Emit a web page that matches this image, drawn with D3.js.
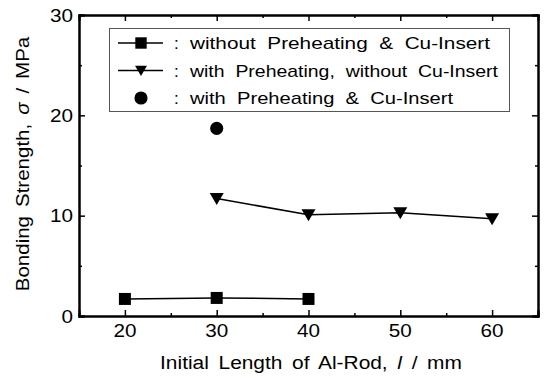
<!DOCTYPE html>
<html>
<head>
<meta charset="utf-8">
<script src="https://cdn.jsdelivr.net/npm/d3@7"></script>
<style>
  html, body { margin: 0; padding: 0; background: #fff; }
  svg { display: block; font-family: "Liberation Sans", Arial, sans-serif; }
</style>
</head>
<body>
<svg id="chart" width="544" height="381"></svg>
<script>
// Bonding strength vs. initial Al-rod length
const lengthNoPre = [20, 30, 40];
const strengthNoPre = [1.7, 1.8, 1.7];

const lengthPre = [30, 40, 50, 60];
const strengthPre = [11.7, 10.1, 10.3, 9.7];

const lengthPreCu = [30];
const strengthPreCu = [18.7];

const legendLabels = [
  "without  Preheating  &  Cu-Insert",
  "with  Preheating,  without  Cu-Insert",
  "with  Preheating  &  Cu-Insert"
];
const legendWidths = [300, 308, 263];
const xMajorTicks = [20, 30, 40, 50, 60];
const xMinorTicks = [25, 35, 45, 55];
const yMajorTicks = [0, 10, 20, 30];
const yMinorTicks = [5, 15, 25];

const svg = d3.select("#chart");
const plotLeft = 79, plotRight = 538, plotTop = 15, plotBottom = 316;

const x = d3.scaleLinear().domain([15, 65]).range([plotLeft, plotRight]);
const y = d3.scaleLinear().domain([0, 30]).range([plotBottom, plotTop]);

const tickFont = 18, tickStretch = 1.15;

// frame axes with inward ticks on all four sides
function frameAxis(axisFn, scale, ticks, len, transform) {
  const g = svg.append("g").attr("transform", transform)
    .call(axisFn(scale).tickValues(ticks).tickSize(len).tickFormat(""));
  g.select(".domain").attr("stroke", "#000").attr("stroke-width", 2);
  g.selectAll(".tick line").attr("stroke", "#000").attr("stroke-width", 1.5);
  return g;
}
frameAxis(d3.axisTop, x, xMajorTicks, 6, `translate(0,${plotBottom})`);
frameAxis(d3.axisTop, x, xMinorTicks, 3, `translate(0,${plotBottom})`);
frameAxis(d3.axisBottom, x, xMajorTicks, 6, `translate(0,${plotTop})`);
frameAxis(d3.axisBottom, x, xMinorTicks, 3, `translate(0,${plotTop})`);
frameAxis(d3.axisRight, y, yMajorTicks, 6, `translate(${plotLeft},0)`);
frameAxis(d3.axisRight, y, yMinorTicks, 3, `translate(${plotLeft},0)`);
frameAxis(d3.axisLeft, y, yMajorTicks, 6, `translate(${plotRight},0)`);
frameAxis(d3.axisLeft, y, yMinorTicks, 3, `translate(${plotRight},0)`);

// tick labels
svg.append("g").selectAll("text").data(xMajorTicks).join("text")
  .attr("transform", d => `translate(${x(d)},337) scale(${tickStretch},1)`)
  .attr("text-anchor", "middle")
  .attr("font-size", tickFont)
  .text(d => d);
svg.append("g").selectAll("text").data(yMajorTicks).join("text")
  .attr("transform", d => `translate(73,${y(d) + 6.5}) scale(${tickStretch},1)`)
  .attr("text-anchor", "end")
  .attr("font-size", tickFont)
  .text(d => d);

// axis titles
const xTitle = svg.append("text")
  .attr("transform", "translate(311,369) scale(1.1,1)")
  .attr("text-anchor", "middle")
  .attr("font-size", 19)
  .attr("word-spacing", 3.5);
xTitle.append("tspan").text("Initial Length of Al-Rod, ");
xTitle.append("tspan").attr("font-style", "italic").text("l");
xTitle.append("tspan").text(" / mm");

const yTitle = svg.append("text")
  .attr("transform", "translate(29,164) rotate(-90) scale(1.08,1)")
  .attr("text-anchor", "middle")
  .attr("font-size", 19)
  .attr("word-spacing", 3);
yTitle.append("tspan").text("Bonding Strength, ");
yTitle.append("tspan").attr("font-style", "italic").text("σ");
yTitle.append("tspan").text(" / MPa");

// marker shapes
const square = d3.symbol().type(d3.symbolSquare).size(144);
const circle = d3.symbol().type(d3.symbolCircle).size(135);
const triDown = "M-7,-5.5L7,-5.5L0,6.5Z";

const line = d3.line().x(d => x(d[0])).y(d => y(d[1]));

const seriesNoPre = d3.zip(lengthNoPre, strengthNoPre);
const seriesPre = d3.zip(lengthPre, strengthPre);
const seriesPreCu = d3.zip(lengthPreCu, strengthPreCu);

svg.append("path").datum(seriesNoPre).attr("d", line)
  .attr("fill", "none").attr("stroke", "#000").attr("stroke-width", 1.5);
svg.append("path").datum(seriesPre).attr("d", line)
  .attr("fill", "none").attr("stroke", "#000").attr("stroke-width", 1.5);

svg.append("g").selectAll("path").data(seriesNoPre).join("path")
  .attr("transform", d => `translate(${x(d[0])},${y(d[1])})`)
  .attr("d", square).attr("fill", "#000");
svg.append("g").selectAll("path").data(seriesPre).join("path")
  .attr("transform", d => `translate(${x(d[0])},${y(d[1])})`)
  .attr("d", triDown).attr("fill", "#000");
svg.append("g").selectAll("path").data(seriesPreCu).join("path")
  .attr("transform", d => `translate(${x(d[0])},${y(d[1])})`)
  .attr("d", circle).attr("fill", "#000");

// legend
const legend = svg.append("g");
legend.append("rect")
  .attr("x", 109.5).attr("y", 28.5).attr("width", 400).attr("height", 83)
  .attr("fill", "#fff").attr("stroke", "#555").attr("stroke-width", 1);
const legendMarks = [square, triDown, circle];
const legendMarkScale = [0.95, 0.85, 1];
const legendHasLine = [true, true, false];
legendLabels.forEach((label, i) => {
  const ly = 43 + i * 27.5;
  if (legendHasLine[i]) {
    legend.append("line").attr("x1", 118).attr("x2", 163)
      .attr("y1", ly).attr("y2", ly)
      .attr("stroke", "#000").attr("stroke-width", 1.5);
  }
  const mk = legendMarks[i];
  legend.append("path")
    .attr("transform", `translate(141,${ly}) scale(${legendMarkScale[i]})`)
    .attr("d", typeof mk === "string" ? mk : mk())
    .attr("fill", "#000");
  legend.append("text")
    .attr("x", 174).attr("y", ly + 6)
    .attr("font-size", 17)
    .text(":");
  legend.append("text")
    .attr("x", 190).attr("y", ly + 6)
    .attr("font-size", 17)
    .attr("textLength", legendWidths[i])
    .attr("lengthAdjust", "spacingAndGlyphs")
    .style("white-space", "pre")
    .text(label);
});
</script>
</body>
</html>
